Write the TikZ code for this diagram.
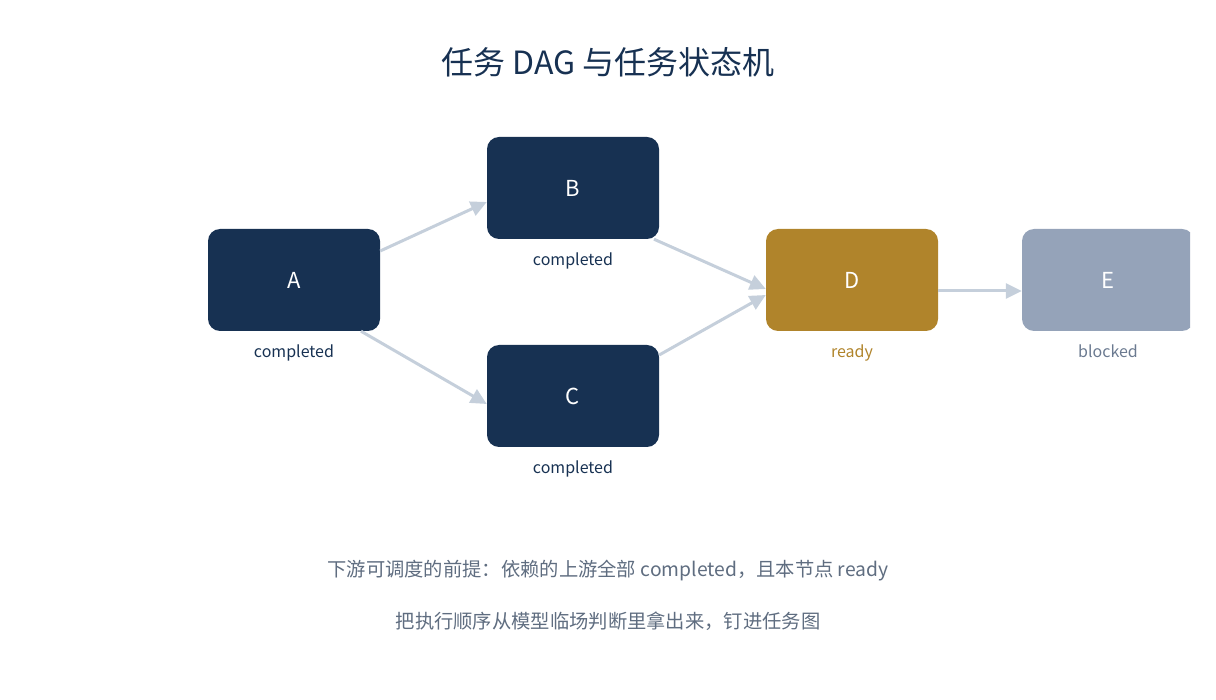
\documentclass[tikz,border=0pt]{standalone}
\usepackage{fontspec}
\setmainfont{Noto Sans CJK SC}
\usetikzlibrary{arrows.meta,positioning,calc}

\definecolor{navy}{HTML}{173152}
\definecolor{gold}{HTML}{B0842B}
\definecolor{slate}{HTML}{95A3B9}
\definecolor{edge}{HTML}{C5CFDB}
\definecolor{note}{HTML}{5F6D80}
\definecolor{muted}{HTML}{6B7A90}

\begin{document}
\begin{tikzpicture}[
  x=1pt, y=-1pt,
  task/.style={rounded corners=12pt, minimum width=172pt, minimum height=102pt, inner sep=0pt, text=white, font=\fontsize{22}{26}\selectfont},
  state/.style={font=\fontsize{16}{19}\selectfont, below=10pt of #1},
  flow/.style={-{Triangle[length=16pt,width=15pt]}, line width=3pt, draw=edge},
  caption/.style={text=note, font=\fontsize{19.3}{23}\selectfont}
]
\useasboundingbox (0,0) rectangle (1216,700);
\node[text=navy, font=\fontsize{32}{38}\selectfont] (title) at (608,62) {任务 DAG 与任务状态机};

\begin{scope}
\clip (0,0) rectangle (1190,700);
\node[task, fill=navy] (A) at (294,280) {A};
\node[task, fill=navy] (B) at (573,188) {B};
\node[task, fill=navy] (C) at (573,396) {C};
\node[task, fill=gold] (D) at (852,280) {D};
\node[task, fill=slate] (E) at (1108,280) {E};
\end{scope}

\node[state=A, text=navy] (Alab) {completed};
\node[state=B, text=navy] (Blab) {completed};
\node[state=C, text=navy] (Clab) {completed};
\node[state=D, text=gold] (Dlab) {ready};
\node[state=E, text=muted] (Elab) {blocked};

\draw[flow] ([yshift=29pt]A.east) -- ([yshift=-14pt]B.west);
\draw[flow] ([xshift=67pt]A.south) -- ([yshift=-8pt]C.west);
\draw[flow] ([xshift=81pt]B.south) -- ([yshift=-9pt]D.west);
\draw[flow] ([yshift=41pt]C.east) -- ([yshift=-15pt]D.west);
\draw[flow] ([yshift=-11pt]D.east) -- ([yshift=-11pt]E.west);

\node[caption] (rule) at (608,571) {下游可调度的前提：依赖的上游全部 completed，且本节点 ready};
\node[caption] (goal) at (608,621) {把执行顺序从模型临场判断里拿出来，钉进任务图};
\end{tikzpicture}
\end{document}
